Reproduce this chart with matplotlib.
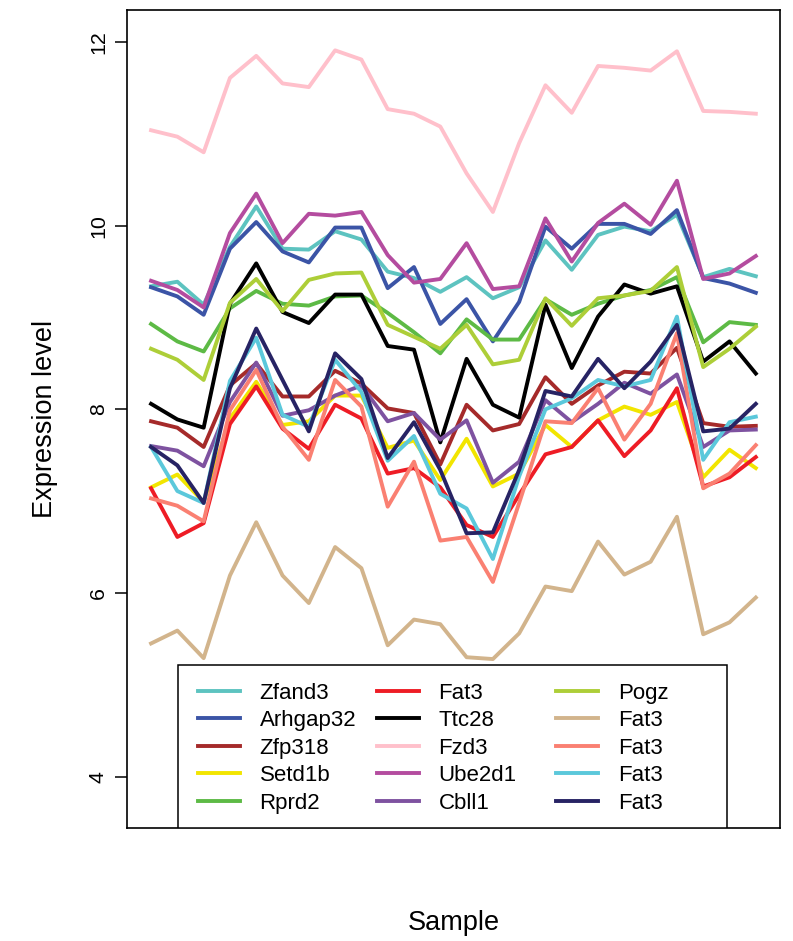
import numpy as np
import matplotlib
matplotlib.use("Agg")
import matplotlib.pyplot as plt
from matplotlib.lines import Line2D
from matplotlib.legend import Legend
from matplotlib.patches import Rectangle

plt.rcParams['font.family'] = ['Liberation Sans', 'DejaVu Sans']

# expression values, 24 samples per gene
samples = np.arange(1, 25)

genes = ["Zfand3", "Arhgap32", "Zfp318", "Setd1b", "Rprd2",
         "Fat3", "Ttc28", "Fzd3", "Ube2d1", "Cbll1",
         "Pogz", "Fat3", "Fat3", "Fat3", "Fat3"]

zfand3 = [9.34, 9.39, 9.14, 9.77, 10.21, 9.75, 9.74, 9.94, 9.85, 9.50, 9.43, 9.28,
          9.44, 9.21, 9.33, 9.84, 9.52, 9.90, 9.99, 9.94, 10.12, 9.44, 9.53, 9.45]
arhgap32 = [9.33, 9.23, 9.03, 9.75, 10.04, 9.72, 9.60, 9.98, 9.98, 9.32, 9.55, 8.93,
            9.20, 8.74, 9.17, 9.99, 9.75, 10.02, 10.02, 9.91, 10.17, 9.43, 9.37, 9.27]
zfp318 = [7.87, 7.80, 7.59, 8.26, 8.50, 8.14, 8.14, 8.42, 8.28, 8.01, 7.96, 7.40,
          8.05, 7.77, 7.84, 8.35, 8.06, 8.26, 8.41, 8.39, 8.67, 7.85, 7.81, 7.82]
setd1b = [7.15, 7.29, 6.99, 7.90, 8.30, 7.83, 7.87, 8.15, 8.15, 7.58, 7.66, 7.23,
          7.68, 7.16, 7.30, 7.83, 7.59, 7.88, 8.03, 7.94, 8.08, 7.26, 7.56, 7.36]
rprd2 = [8.93, 8.74, 8.63, 9.10, 9.29, 9.15, 9.13, 9.23, 9.24, 9.05, 8.84, 8.61,
         8.98, 8.76, 8.76, 9.20, 9.03, 9.15, 9.24, 9.30, 9.44, 8.73, 8.95, 8.92]
fat3_a = [7.14, 6.61, 6.76, 7.84, 8.25, 7.79, 7.57, 8.05, 7.90, 7.30, 7.36, 7.15,
          6.74, 6.61, 7.07, 7.51, 7.59, 7.88, 7.49, 7.77, 8.23, 7.16, 7.26, 7.48]
ttc28 = [8.06, 7.89, 7.80, 9.15, 9.59, 9.06, 8.94, 9.25, 9.25, 8.69, 8.65, 7.64,
         8.55, 8.05, 7.91, 9.14, 8.45, 9.01, 9.36, 9.26, 9.34, 8.52, 8.74, 8.39]
fzd3 = [11.04, 10.97, 10.80, 11.61, 11.85, 11.55, 11.51, 11.91, 11.81, 11.27, 11.22, 11.08,
        10.57, 10.15, 10.90, 11.53, 11.23, 11.74, 11.72, 11.69, 11.90, 11.25, 11.24, 11.22]
ube2d1 = [9.40, 9.30, 9.11, 9.92, 10.35, 9.81, 10.13, 10.11, 10.15, 9.68, 9.38, 9.42,
          9.81, 9.31, 9.34, 10.08, 9.61, 10.03, 10.24, 10.01, 10.49, 9.42, 9.48, 9.67]
cbll1 = [7.60, 7.55, 7.38, 8.08, 8.51, 7.93, 7.99, 8.15, 8.26, 7.87, 7.96, 7.67,
         7.88, 7.20, 7.43, 8.10, 7.86, 8.06, 8.29, 8.17, 8.38, 7.59, 7.77, 7.78]
pogz = [8.66, 8.54, 8.32, 9.16, 9.42, 9.07, 9.41, 9.48, 9.49, 8.92, 8.79, 8.66,
        8.92, 8.49, 8.54, 9.21, 8.91, 9.21, 9.24, 9.29, 9.55, 8.46, 8.66, 8.90]
fat3_b = [5.45, 5.59, 5.29, 6.19, 6.77, 6.19, 5.89, 6.50, 6.27, 5.43, 5.71, 5.66,
          5.30, 5.28, 5.56, 6.07, 6.02, 6.56, 6.20, 6.34, 6.83, 5.55, 5.68, 5.95]
fat3_c = [7.03, 6.95, 6.78, 7.99, 8.43, 7.81, 7.45, 8.32, 8.03, 6.94, 7.43, 6.57,
          6.61, 6.12, 6.98, 7.87, 7.85, 8.23, 7.67, 8.06, 8.83, 7.14, 7.30, 7.61]
fat3_d = [7.59, 7.11, 6.98, 8.31, 8.78, 7.94, 7.81, 8.54, 8.19, 7.44, 7.71, 7.08,
          6.92, 6.37, 7.27, 8.00, 8.12, 8.32, 8.25, 8.32, 9.01, 7.45, 7.86, 7.92]
fat3_e = [7.59, 7.39, 6.98, 8.23, 8.88, 8.32, 7.76, 8.61, 8.33, 7.47, 7.86, 7.34,
          6.65, 6.66, 7.34, 8.20, 8.14, 8.55, 8.23, 8.52, 8.92, 7.76, 7.79, 8.06]

series = [zfand3, arhgap32, zfp318, setd1b, rprd2, fat3_a, ttc28, fzd3,
          ube2d1, cbll1, pogz, fat3_b, fat3_c, fat3_d, fat3_e]

colors = ["#5DC3C0", "#3B54A6", "#A52A2A", "#F2E500", "#5DBA45",
          "#EE1C25", "#000000", "#FFC0CB", "#B44C9F", "#7E52A0",
          "#ADCE38", "#D2B48C", "#FA8072", "#5BC8DB", "#272364"]

yticks = [4, 6, 8, 10, 12]

fig = plt.figure(figsize=(7.93, 9.41), dpi=100)
ax = fig.add_axes([0.160, 0.1201, 0.8236, 0.8693])

for vals, c in zip(series, colors):
    ax.plot(samples, vals, color=c, lw=2.8, solid_joinstyle='round')

ax.set_xlim(0.08, 24.92)
ax.set_ylim(3.44, 12.35)
ax.set_xticks([])
ax.set_yticks(yticks)
ax.set_yticklabels([str(t) for t in yticks], rotation=90, va='center')
ax.tick_params(axis='y', length=8.6, width=1.1, labelsize=15.4, pad=5)
for sp in ax.spines.values():
    sp.set_linewidth(1.2)

ax.set_ylabel("Expression level", fontsize=19.5, labelpad=22)
ax.set_xlabel("Sample", fontsize=19.5, labelpad=59)

# legend: three columns of equal width inside one box at the bottom
ax.add_patch(Rectangle((0.0781, 0.0), 0.8407, 0.1993, transform=ax.transAxes,
                       facecolor='white', edgecolor='black', lw=1.1, zorder=5))
col_x = [0.1083, 0.3825, 0.6570]
handles = [Line2D([], [], color=c, lw=2.8) for c in colors]
for k in range(3):
    leg = Legend(ax, handles[k*5:(k+1)*5], genes[k*5:(k+1)*5],
                 loc='upper left', bbox_to_anchor=(col_x[k], 0.1775),
                 frameon=False, borderpad=0, borderaxespad=0,
                 fontsize=16, handlelength=1.91, handletextpad=0.875,
                 labelspacing=0.29)
    leg.set_zorder(6)
    ax.add_artist(leg)

fig.savefig("out.png", dpi=100)
